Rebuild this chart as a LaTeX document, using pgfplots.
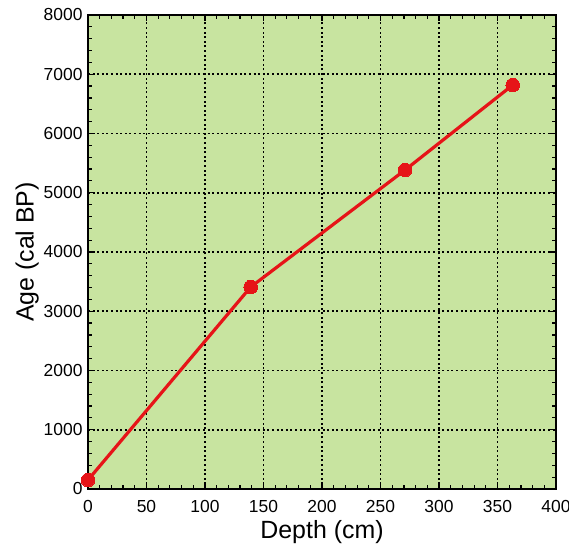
\documentclass[border=0pt]{standalone}
\usepackage{fontspec}
\setmainfont{Liberation Sans}
\usepackage{pgfplots}
\pgfplotsset{compat=1.18}
\definecolor{bgg}{RGB}{200,228,160}
\definecolor{ptred}{RGB}{230,20,24}
\begin{document}
\begin{tikzpicture}
\begin{axis}[name=ax, scale only axis, width=468bp, height=474bp,
    xmin=0, xmax=400, ymin=0, ymax=8000,
    xtick distance=50, ytick distance=1000,
    minor x tick num=4, minor y tick num=4,
    tick align=inside, major tick length=6bp, minor tick length=4bp,
    tick style={black, line width=1.2bp},
    axis line style={black, line width=1.5bp},
    axis background/.style={fill=bgg},
    grid=major, major grid style={black, line width=1.7bp, dash pattern=on 2bp off 2.6bp},
    /pgf/number format/assume math mode=true,
    /pgf/number format/1000 sep={},
    tick label style={font=\fontsize{17.5}{19}\selectfont},
    xticklabel style={yshift=-8bp},
    yticklabel style={xshift=-2bp},
    xlabel={Depth (cm)}, ylabel={Age (cal BP)},
    label style={font=\fontsize{25}{28}\selectfont},
    xlabel style={yshift=-1bp}, ylabel style={yshift=-2bp},
    clip=false]
  \addplot[ptred, line width=3.2bp, mark=*, mark size=6.8bp, mark options={fill=ptred, draw=ptred, line width=0pt}]
    coordinates {(0,152) (139,3408) (271,5384) (363,6818)};
\end{axis}
\pgfresetboundingbox
\path (ax.south west) ++(-88bp,-56bp) coordinate (bl);
\path (ax.north east) ++(13bp,15bp) coordinate (tr);
\useasboundingbox (bl) rectangle (tr);
\end{tikzpicture}
\end{document}
